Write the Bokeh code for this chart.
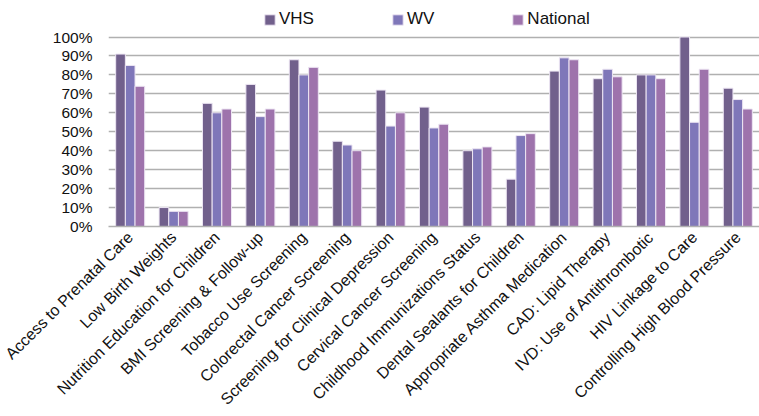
import math
from bokeh.plotting import figure
from bokeh.models import FactorRange, Range1d, FixedTicker, PrintfTickFormatter, ColumnDataSource, Legend, LegendItem
from bokeh.transform import dodge
from bokeh.embed import file_html
from bokeh.resources import INLINE

categories = [
    "Access to Prenatal Care", "Low Birth Weights", "Nutrition Education for Children",
    "BMI Screening & Follow-up", "Tobacco Use Screening", "Colorectal Cancer Screening",
    "Screening for Clinical Depression", "Cervical Cancer Screening",
    "Childhood Immunizations Status", "Dental Sealants for Children",
    "Appropriate Asthma Medication", "CAD: Lipid Therapy", "IVD: Use of Antithrombotic",
    "HIV Linkage to Care", "Controlling High Blood Pressure",
]
vhs = [91, 10, 65, 75, 88, 45, 72, 63, 40, 25, 82, 78, 80, 100, 73]
wv = [85, 8, 60, 58, 80, 43, 53, 52, 41, 48, 89, 83, 80, 55, 67]
national = [74, 8, 62, 62, 84, 40, 60, 54, 42, 49, 88, 79, 78, 83, 62]
series_names = ["VHS", "WV", "National"]
y_ticks = list(range(0, 101, 10))

FONT = "Liberation Sans"
colors = ["#71608C", "#7F77B9", "#9E73AC"]

source = ColumnDataSource(dict(cat=categories, VHS=vhs, WV=wv, National=national))

# frame spans y = 0..229 px; 0..100 occupies 229..37 px, headroom holds the legend
TOP, BOTTOM = 0, 229
y_max = 100 * (BOTTOM - TOP) / (BOTTOM - 37)

p = figure(
    width=759, height=416, output_backend="svg", toolbar_location=None,
    x_range=FactorRange(*categories, range_padding=0), y_range=Range1d(0, y_max),
    min_border_left=108, min_border_right=0, min_border_top=TOP,
    min_border_bottom=416 - BOTTOM,
)
p.outline_line_color = None
p.background_fill_color = "white"
p.border_fill_color = "white"

bw = 0.223
items = []
for i, (name, col) in enumerate(zip(series_names, colors)):
    r = p.vbar(x=dodge("cat", (i - 1) * bw, range=p.x_range), top=name, width=bw,
               source=source, fill_color=col, line_color="#EDE6F3", line_width=1)
    items.append(LegendItem(label=name, renderers=[r]))

p.xgrid.grid_line_color = None
p.ygrid.grid_line_color = "#B0B0B0"
p.ygrid.grid_line_width = 1.5
p.yaxis.ticker = FixedTicker(ticks=y_ticks)
p.yaxis.formatter = PrintfTickFormatter(format="%d%%")
p.yaxis.axis_line_color = None
p.yaxis.major_tick_line_color = None
p.yaxis.minor_tick_line_color = None
p.yaxis.major_tick_out = 0
p.yaxis.major_label_standoff = 16
p.yaxis.major_label_text_font = FONT
p.yaxis.major_label_text_font_size = "15.5px"
p.yaxis.major_label_text_color = "#111111"

p.xaxis.axis_line_color = "#B0B0B0"
p.xaxis.axis_line_width = 1.5
p.xaxis.major_tick_line_color = None
p.xaxis.major_tick_out = 0
p.xaxis.major_label_orientation = math.pi / 4
p.xaxis.major_label_standoff = 8
p.xaxis.major_label_text_font = FONT
p.xaxis.major_label_text_font_size = "16px"
p.xaxis.major_label_text_color = "#111111"

lg = Legend(items=items, orientation="horizontal", location=(155, 197),
            spacing=77, glyph_width=13, glyph_height=13, label_height=13,
            label_standoff=3, padding=0, margin=0, border_line_color=None,
            background_fill_alpha=0, label_text_font=FONT,
            label_text_font_size="17px", label_text_color="#111111")
p.add_layout(lg, "center")

open("out.html", "w").write(file_html(p, INLINE))
